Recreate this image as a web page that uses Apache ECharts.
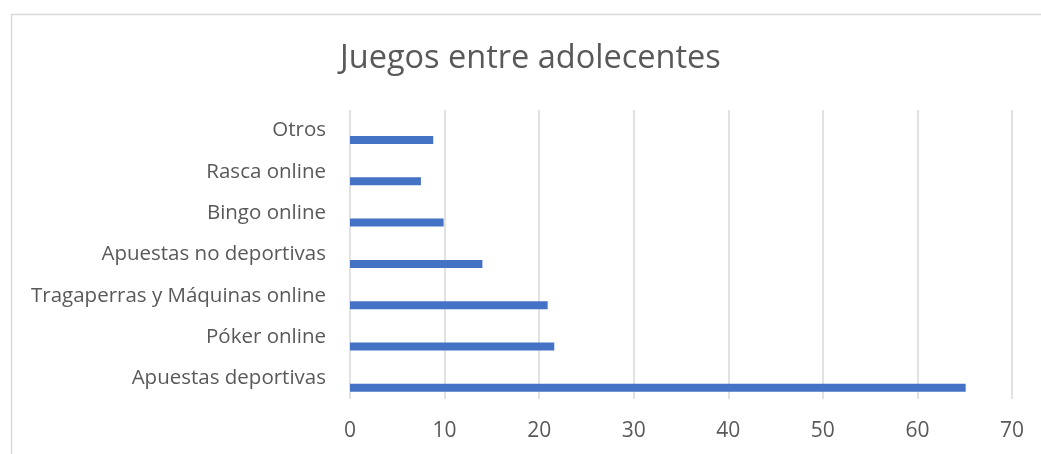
<!DOCTYPE html>
<html>
<head>
<meta charset="utf-8">
<script src="https://cdn.jsdelivr.net/npm/echarts@6/dist/echarts.min.js"></script>
<style>html,body{margin:0;padding:0;background:#fff}#c{width:1041px;height:454px}</style>
</head>
<body>
<div id="c"></div>
<script>
const categories = ['Apuestas deportivas', 'Póker online', 'Tragaperras y Máquinas online', 'Apuestas no deportivas', 'Bingo online', 'Rasca online', 'Otros'];
const values = [65.1, 21.6, 20.9, 14.0, 9.9, 7.5, 8.8];
const xTicks = { min: 0, max: 70, interval: 10 };
const titleText = 'Juegos entre adolecentes';

const chart = echarts.init(document.getElementById('c'), null, { renderer: 'canvas' });
const font = 'Open Sans, Liberation Sans, sans-serif';
chart.setOption({
  animation: false,
  backgroundColor: '#fff',
  graphic: [{
    type: 'rect', left: 9, top: 12, shape: { x: 0, y: 0, width: 1100, height: 500 },
    style: { fill: 'none', stroke: '#d9d9d9', lineWidth: 1.5 }, silent: true
  }],
  title: {
    text: titleText, left: 335, top: 37,
    textStyle: { fontFamily: font, fontSize: 32.5, fontWeight: 'normal', color: '#595959' }
  },
  grid: { left: 350, right: 29, top: 110, bottom: 55, containLabel: false },
  xAxis: {
    type: 'value', min: xTicks.min, max: xTicks.max, interval: xTicks.interval,
    axisLine: { show: false }, axisTick: { show: false },
    axisLabel: { color: '#595959', fontFamily: font, fontSize: 21, margin: 22 },
    splitLine: { lineStyle: { color: '#d9d9d9', width: 1.5 } }
  },
  yAxis: {
    type: 'category', data: categories,
    axisLine: { show: false }, axisTick: { show: false },
    axisLabel: { color: '#595959', fontFamily: font, fontSize: 20.5, margin: 24 }
  },
  series: [
    { type: 'bar', data: categories.map(() => null), barWidth: 8, barGap: '135%', silent: true },
    { type: 'bar', data: values, barWidth: 8, barGap: '135%', itemStyle: { color: '#4472c4' } }
  ]
});
</script>
</body>
</html>
